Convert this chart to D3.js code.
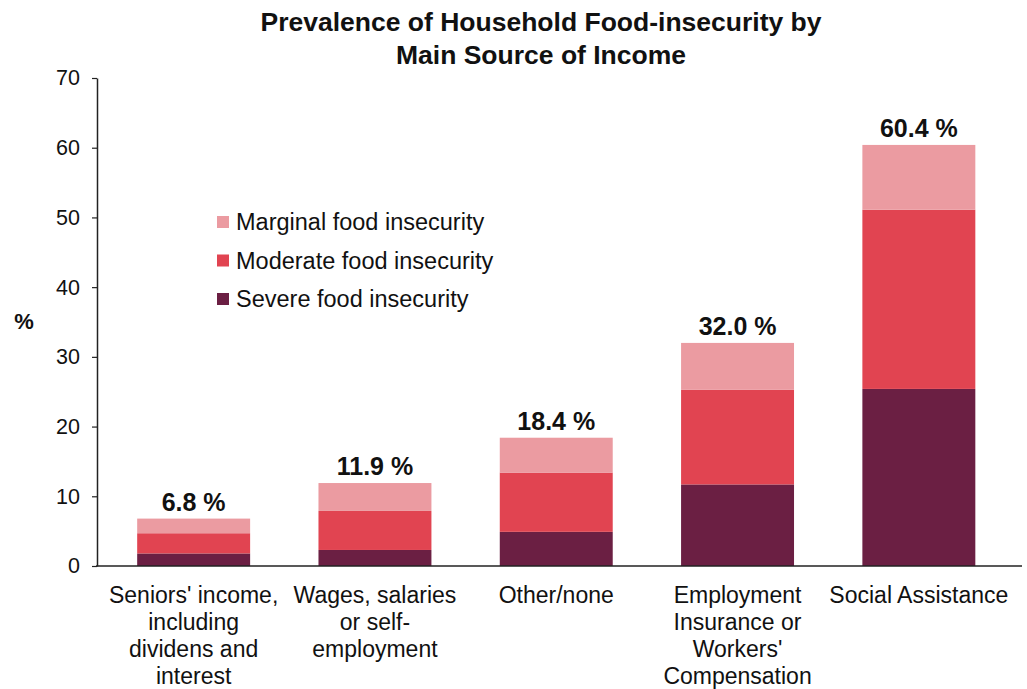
<!DOCTYPE html>
<html>
<head>
<meta charset="utf-8">
<script src="https://cdn.jsdelivr.net/npm/d3@7"></script>
<style>
  body { margin: 0; background: #fff; }
  text { font-family: "Liberation Sans", Arial, sans-serif; fill: #111; }
</style>
</head>
<body>
<div id="chart"></div>
<script>
const categories = [
  ["Seniors' income,", "including", "dividens and", "interest"],
  ["Wages, salaries", "or self-", "employment"],
  ["Other/none"],
  ["Employment", "Insurance or", "Workers'", "Compensation"],
  ["Social Assistance"]
];
const severe = [1.8, 2.3, 4.9, 11.7, 25.4];
const moderate = [2.9, 5.6, 8.5, 13.6, 25.7];
const marginal = [2.1, 4.0, 5.0, 6.7, 9.3];
const totals = ["6.8 %", "11.9 %", "18.4 %", "32.0 %", "60.4 %"];
const seriesNames = ["Severe food insecurity", "Moderate food insecurity", "Marginal food insecurity"];
const seriesColors = ["#6b1f43", "#e14451", "#eb9ba1"];
const yTicks = [0, 10, 20, 30, 40, 50, 60, 70];

const width = 1027, height = 689;
const svg = d3.select('#chart').append('svg')
  .attr('width', width).attr('height', height);

// rows for stacking
const rows = categories.map((c, i) => ({ idx: i, s0: severe[i], s1: moderate[i], s2: marginal[i] }));
const stack = d3.stack().keys(['s0', 's1', 's2'])(rows);

const x = d3.scaleBand().domain(d3.range(categories.length)).range([103, 1009.5])
  .paddingInner(0.377).paddingOuter(0.1885);
const y = d3.scaleLinear().domain([0, 70]).range([566, 78]);

// title
svg.append('text').attr('x', 541).attr('y', 31).attr('text-anchor', 'middle')
  .style('font-size', '26.5px').style('font-weight', 'bold')
  .text('Prevalence of Household Food-insecurity by');
svg.append('text').attr('x', 541).attr('y', 64).attr('text-anchor', 'middle')
  .style('font-size', '26.5px').style('font-weight', 'bold')
  .text('Main Source of Income');

// bars
svg.append('g').selectAll('g')
  .data(stack)
  .join('g')
  .attr('fill', (d, i) => seriesColors[i])
  .selectAll('rect')
  .data(d => d)
  .join('rect')
  .attr('x', d => x(d.data.idx))
  .attr('width', x.bandwidth())
  .attr('y', d => y(d[1]))
  .attr('height', d => y(d[0]) - y(d[1]));

// totals on top
const topLayer = stack[stack.length - 1];
svg.append('g').selectAll('text')
  .data(topLayer)
  .join('text')
  .attr('x', d => x(d.data.idx) + x.bandwidth() / 2)
  .attr('y', d => y(d[1]) - 8)
  .attr('text-anchor', 'middle')
  .style('font-size', '25px').style('font-weight', 'bold')
  .text((d, i) => totals[i]);

// y axis
const yAxis = svg.append('g').attr('transform', 'translate(97,0)')
  .call(d3.axisLeft(y).tickValues(yTicks).tickSize(5).tickSizeOuter(0).tickPadding(12));
yAxis.select('.domain').attr('stroke', '#222').attr('stroke-width', 1.5);
yAxis.selectAll('.tick line').attr('stroke', '#222').attr('stroke-width', 1.2);
yAxis.selectAll('.tick text').style('font-size', '21.5px').style('font-family', '"Liberation Sans", Arial, sans-serif').attr('fill', '#111');

// x axis line
svg.append('line').attr('x1', 96).attr('x2', 1022).attr('y1', y(0)).attr('y2', y(0))
  .attr('stroke', '#222').attr('stroke-width', 1.5);

// y label
svg.append('text').attr('x', 24).attr('y', 329).attr('text-anchor', 'middle')
  .style('font-size', '22px').style('font-weight', 'bold').text('%');

// category labels
const catG = svg.append('g').selectAll('text')
  .data(categories)
  .join('text')
  .attr('text-anchor', 'middle')
  .style('font-size', '23px');
catG.selectAll('tspan')
  .data((d, i) => d.map(t => ({ t, i })))
  .join('tspan')
  .attr('x', d => x(d.i) + x.bandwidth() / 2)
  .attr('y', (d, j) => 603 + j * 27)
  .text(d => d.t);

// legend
const legendOrder = [2, 1, 0];
const legend = svg.append('g').selectAll('g')
  .data(legendOrder)
  .join('g')
  .attr('transform', (d, i) => `translate(217,${222 + i * 38.5})`);
legend.append('rect').attr('x', 0).attr('y', -6).attr('width', 12).attr('height', 12)
  .attr('fill', d => seriesColors[d]);
legend.append('text').attr('x', 19).attr('y', 8)
  .style('font-size', '23.5px')
  .text(d => seriesNames[d]);
</script>
</body>
</html>
